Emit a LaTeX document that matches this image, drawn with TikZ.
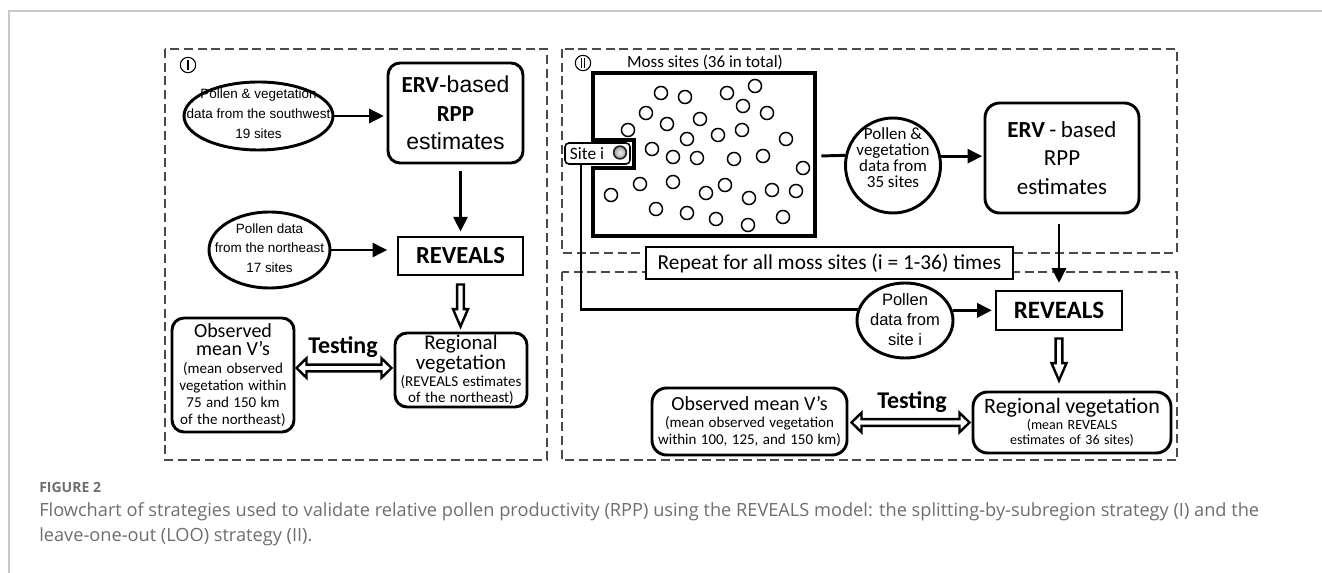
\documentclass[tikz,border=0pt]{standalone}
\usepackage{fontspec}
\setmainfont{Carlito}
\newfontfamily\arial{Liberation Sans}
\newfontfamily\osans{Open Sans}
\usetikzlibrary{arrows.meta,calc,shapes.geometric}
\newcommand\fsz[2]{\fontsize{#1}{#2}\selectfont}
\definecolor{capgray}{HTML}{6E6E6E}
\definecolor{framegray}{HTML}{C8C8C8}
\definecolor{dashgray}{HTML}{4A4A4A}
\newcommand\hdown[2]{\path[hollow] let \p1=#1, \p2=#2 in
  (\x1-2.5pt,\y1) -- (\x1-2.5pt,\y2+13pt) -- (\x1-5.6pt,\y2+13pt) -- (\x1,\y2)
  -- (\x1+5.6pt,\y2+13pt) -- (\x1+2.5pt,\y2+13pt) -- (\x1+2.5pt,\y1) -- cycle;}
\newcommand\hdouble[2]{\path[hollow] let \p1=#1, \p2=#2 in
  (\x1,\y1) -- (\x1+7.5pt,\y1+7.3pt) -- (\x1+7.5pt,\y1+2.5pt) -- (\x2-7.5pt,\y1+2.5pt)
  -- (\x2-7.5pt,\y1+7.3pt) -- (\x2,\y1) -- (\x2-7.5pt,\y1-7.3pt) -- (\x2-7.5pt,\y1-2.5pt)
  -- (\x1+7.5pt,\y1-2.5pt) -- (\x1+7.5pt,\y1-7.3pt) -- cycle;}
\tikzset{
  panel/.style={draw=dashgray, line width=1.1pt, dash pattern=on 6.75pt off 3.5pt},
  rbox/.style={draw, line width=2.2pt, rounded corners=9pt, align=center, inner sep=0pt},
  sbox/.style={draw, line width=2.2pt, align=center, inner sep=0pt},
  ell/.style={draw, ellipse, line width=2.2pt, inner sep=0pt},
  txt/.style={align=center, inner sep=0pt},
  conn/.style={line width=2.2pt, -{Triangle[length=11pt,width=10.5pt]}},
  plain/.style={line width=2.2pt},
  hollow/.style={draw, fill=white, line width=1.8pt, line join=miter},
  site/.style={draw, line width=1.1pt},
  numcirc/.style={draw, circle, line width=0.8pt, minimum size=11.5pt, inner sep=0pt},
}
\begin{document}
\begin{tikzpicture}[x=0.75pt,y=-0.75pt]
\useasboundingbox (0,0) rectangle (1322,573);
% outer page frame
\draw[framegray, line width=1pt] (1322,11) -- (9,11) -- (9,573);

% ---------- Panel I ----------
\draw[panel] (165,49) rectangle (547,460);
\node[numcirc] (n1) at (188,65) {};
\draw[line width=0.8pt] ($(n1)+(0,-5)$) -- ($(n1)+(0,5)$);

\node[ell, minimum width=111.75pt, minimum height=51pt] (ell1) at (258.5,116) {};
\node[txt, font=\arial\fsz{10.1}{15}] (ell1t) at (258.5,114) {Pollen \& vegetation\\data from the southwest\\19 sites};

\node[rbox, minimum width=101.25pt, minimum height=75pt, text width=98pt] (erv1) at (455.5,113)
  {\fsz{17.25}{21.4}{\bfseries ERV}{\arial -based}\\{\bfseries RPP}\\{\arial estimates}\par};

\node[sbox, minimum width=93.75pt, minimum height=28.5pt, font=\bfseries\fsz{18.4}{20}] (rev1) at (460.5,256) {REVEALS};

\node[ell, minimum width=90.75pt, minimum height=57pt] (ell2) at (269.5,250) {};
\node[txt, font=\arial\fsz{10.1}{14.6}] (ell2t) at (269.5,248) {Pollen data\\from the northeast\\17 sites};

\node[rbox, minimum width=99pt, minimum height=55.5pt, text width=97pt] (reg1) at (461,370)
  {{\fsz{15.75}{12}Regional\\vegetation\par}\vspace{1pt}{\fsz{11.25}{12}(REVEALS estimates\\of the northeast)\par}};

\node[rbox, minimum width=91.5pt, minimum height=85.5pt, text width=89pt] (obs1) at (233,375)
  {{\fsz{15}{13.5}Observed\\mean V’s\par}\vspace{1pt}{\fsz{11.25}{12.75}(mean observed\\vegetation within\\75 and 150 km\\of the northeast)\par}};

\node[txt, font=\bfseries\fsz{18}{20}] (test1) at (343,347) {Testing};

\draw[conn, shorten >=2pt] (ell1) -- (ell1 -| erv1.west);
\draw[conn, shorten <=5pt, shorten >=3pt] (erv1.south -| rev1) -- (rev1.north);
\draw[conn, shorten >=7pt] (ell2.east) -- (ell2.east -| rev1.west);
\hdown{([yshift=-6pt]rev1.south)}{([yshift=3.75pt]reg1.north)}
\hdouble{([xshift=0.75pt,yshift=1.5pt]obs1.east |- reg1.west)}{([xshift=-1.5pt,yshift=1.5pt]reg1.west)}

% ---------- Panel II ----------
\draw[panel] (562,49) rectangle (1177,253);
\draw[panel] (562,272) rectangle (1177,460);
\node[numcirc] (n2) at (583,63) {};
\draw[line width=0.8pt] ($(n2)+(-1.8,-5)$) -- ($(n2)+(-1.8,5)$);
\draw[line width=0.8pt] ($(n2)+(1.8,-5)$) -- ($(n2)+(1.8,5)$);

\node[txt, font=\fsz{12.75}{14}] (mosslab) at (705,62) {Moss sites (36 in total)};
\draw[line width=2.4pt, line join=miter] (593,73) -- (815,73) -- (815,236) -- (593,236)
  -- (593,168) -- (634,168) -- (634,140) -- (593,140) -- cycle;
\foreach \cx/\cy in {661/93,685/97,727/93,755/86,646/113,667/124,700/119,743/106,767/113,
  628/130,687/139,718/135,742/130,786/139,652/149,673/157,697/158,734/159,763/156,803/168,
  640/184,673/182,611/195,706/193,725/185,749/198,772/190,796/191,656/209,687/213,716/219,
  748/225,783/217}
  \draw[site] (\cx,\cy) circle[radius=4.9pt];

\node[draw, line width=1.2pt, rounded corners=3pt, fill=white, minimum width=48.75pt,
  minimum height=15.75pt, inner sep=0pt] (sitei) at (597.5,153.5) {};
\node[txt, font=\fsz{13}{14}] (siteit) at (587,153.5) {Site i};
\node[circle, draw=black!85, line width=1.3pt, inner color=gray!15, outer color=gray!75,
  minimum size=9.5pt, inner sep=0pt] (sitec) at (620,152.5) {};

\coordinate (mossE) at (820,156);
\node[draw, circle, line width=2.2pt, minimum size=71.25pt, inner sep=0pt] (pc) at (893,165.5) {};
\node[txt, font=\fsz{12.75}{12}] (pct) at (893,158) {Pollen \&\\vegetation\\data from\\35 sites};

\node[rbox, rounded corners=11pt, minimum width=115.5pt, minimum height=82.5pt, text width=112pt] (erv2) at (1062,158)
  {\fsz{17.25}{21.4}{\bfseries ERV} - based\\RPP\\estimates\par};

\node[draw, line width=1pt, fill=white, minimum width=275.25pt, minimum height=24pt, inner sep=0pt,
  font=\fsz{16}{17}] (repeat) at (829.5,263) {Repeat for all moss sites (i = 1-36) times};

\node[sbox, minimum width=94.5pt, minimum height=29.25pt, font=\bfseries\fsz{18.75}{20}] (rev2) at (1059,310.5) {REVEALS};

\node[ell, minimum width=72pt, minimum height=56.25pt] (ell3) at (905,320.5) {};
\node[txt, font=\arial\fsz{12.4}{15}] (ell3t) at (905,320) {Pollen\\data from\\site i};

\node[rbox, rounded corners=11pt, minimum width=148.5pt, minimum height=45.75pt, text width=146pt] (reg2) at (1072,422.5)
  {{\fsz{16.5}{14}Regional vegetation\par}{\fsz{10.5}{11.5}(mean REVEALS\\estimates of 36 sites)\par}};

\node[rbox, rounded corners=11pt, minimum width=146.25pt, minimum height=50.25pt, text width=144pt] (obs2) at (749.5,421.5)
  {{\fsz{15}{14}Observed mean V’s\par}\vspace{0.5pt}{\fsz{11.25}{12.75}(mean observed vegetation\\within 100, 125, and 150 km)\par}};

\node[txt, font=\bfseries\fsz{18}{20}] (test2) at (912,402) {Testing};

\draw[plain, shorten <=1pt] (mossE) -- (pc.168.5);
\draw[conn, shorten >=1pt] (pc.11.5) -- (pc.11.5 -| erv2.west);
\draw[conn, shorten <=7pt, shorten >=5pt] (erv2.south -| rev2) -- (rev2.north);
\coordinate (sx) at (581,0);
\draw[plain, line join=miter] (sitei.south -| sx) |- (ell3.167.8);
\draw[conn, shorten >=2pt] (ell3.12.2) -- (ell3.12.2 -| rev2.west);
\hdown{([yshift=-5.25pt]rev2.south)}{([yshift=7.5pt]reg2.north)}
\hdouble{([xshift=2.25pt]obs2.east |- reg2.west)}{([xshift=-1.5pt]reg2.west)}

% ---------- caption ----------
\node[anchor=west, inner sep=0pt, text=capgray, font=\osans\bfseries\fsz{10.5}{12}] (figlab) at (39,488) {FIGURE 2};
\node[anchor=west, inner sep=0pt, text=capgray, font=\osans\fsz{13.65}{15}] (cap1) at (39,512)
  {Flowchart of strategies used to validate relative pollen productivity (RPP) using the REVEALS model: the splitting-by-subregion strategy (I) and the};
\node[anchor=west, inner sep=0pt, text=capgray, font=\osans\fsz{13.65}{15}] (cap2) at (39,537)
  {leave-one-out (LOO) strategy (II).};
\end{tikzpicture}
\end{document}
